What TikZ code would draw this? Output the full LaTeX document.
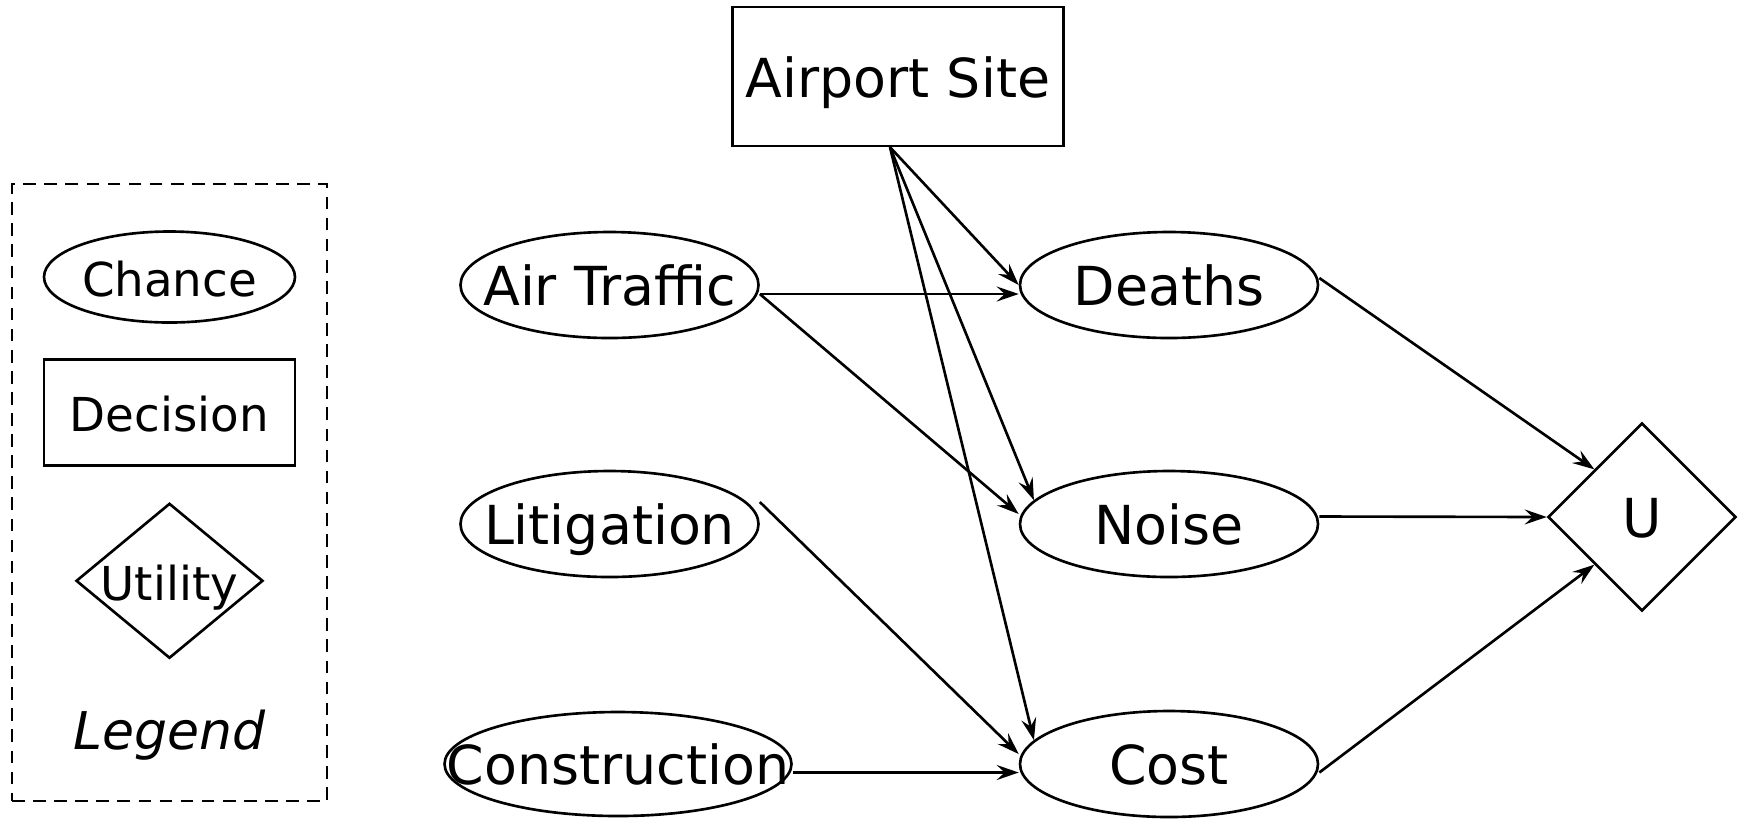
\documentclass[tikz,border=0pt]{standalone}
\usepackage{fontspec}
\setmainfont{DejaVu Sans}
\usetikzlibrary{arrows.meta, shapes.geometric, positioning}
\tikzset{
	chance/.style = {ellipse, draw, inner sep=-5mm, minimum width=2.98cm, minimum height=1.06cm},
	decision/.style = {rectangle, draw, inner sep=0pt, minimum width=3.31cm, minimum height=1.39cm},
	value/.style = {diamond, draw, aspect=1, inner sep=0pt, minimum size=1.88cm},
	key/.style = {font=\fontsize{13.3}{16}\selectfont, text height=11.2pt}
}

\begin{document}
\begin{tikzpicture}[node distance=5.595cm, line width=0.75pt,
		>={Stealth[length=2.2mm, width=1.5mm, inset=0.8mm]},
		font=\fontsize{15.3}{18}\selectfont, text height=11.8pt, text depth=0pt]
	\useasboundingbox (0,0) rectangle (17.38,-8.19);

	% legend
	\node [draw, dash pattern=on 3.6pt off 2.4pt, minimum width=3.15cm, minimum height=6.17cm] (legendbox) at (1.695,-4.925) {};
	\node [chance, key, minimum width=2.51cm, minimum height=0.91cm] (chancekey) at (1.695,-2.77) {Chance};
	\node [decision, key, minimum width=2.51cm, minimum height=1.06cm] (decisionkey) at (1.695,-4.123) {Decision};
	\node [diamond, draw, key, aspect=1.2, inner sep=-3pt,
		minimum width=1.87cm, minimum height=1.55cm] (utilitykey) at (1.695,-5.808) {Utility};
	\node [font=\fontsize{14.8}{18}\selectfont\itshape, text height=11.2pt] (legend) at (1.695,-7.30) {Legend};

	% diagram
	\node [decision] (site) at (8.98,-0.764) {Airport Site};
	\node [chance] (traffic) at (6.095,-2.85) {Air Traffic};
	\node [chance, right of=traffic] (deaths) {Deaths};
	\node [chance, below of=deaths, node distance=2.39cm] (noise) {Noise};
	\node [chance, below of=noise, node distance=2.4cm] (cost) {Cost};
	\node [chance, left of=noise] (litigation) {Litigation};
	\node [chance, below of=litigation, node distance=2.4cm, xshift=0.085cm,
		minimum width=3.47cm, minimum height=1.04cm] (construction) {Construction};
	\node [value, right of=noise, node distance=4.73cm, yshift=0.07cm] (u) {U};

	\coordinate (fork) at ([xshift=-0.08cm]site.south);
	\draw [->] (fork) -- (deaths.west);
	\draw [->] (fork) -- (noise.170);
	\draw [->] (fork) -- (cost.170);

	\draw [->] ([yshift=-0.09cm]traffic.east) -- ([yshift=-0.09cm]deaths.west);
	\draw [->] ([yshift=-0.09cm]traffic.east) -- ([yshift=0.1cm]noise.west);
	\draw [->] ([yshift=0.22cm]litigation.east) -- ([yshift=0.1cm]cost.west);
	\draw [->] ([yshift=-0.085cm]construction.east) -- ([yshift=-0.085cm]cost.west);

	\draw [->] ([yshift=0.07cm]deaths.east) -- (u.north west);
	\draw [->] ([yshift=0.075cm]noise.east) -- (u.west);
	\draw [->] ([yshift=-0.085cm]cost.east) -- (u.south west);
\end{tikzpicture}
\end{document}
